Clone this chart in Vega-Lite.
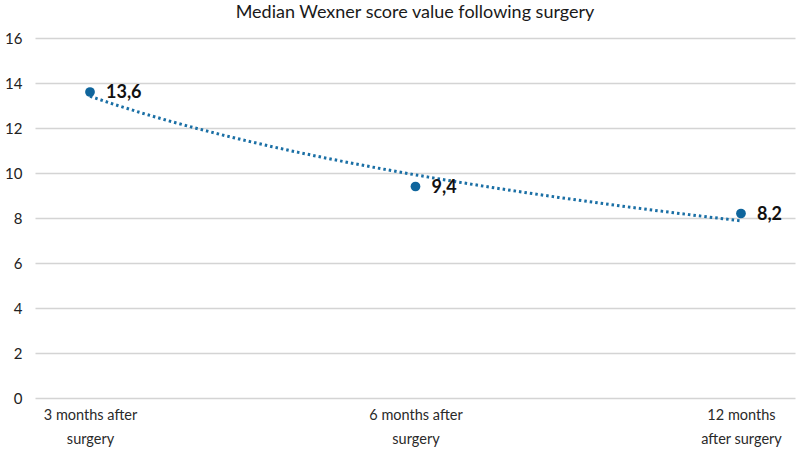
{
  "$schema": "https://vega.github.io/schema/vega-lite/v6.json",
  "autosize": "none",
  "width": 760,
  "height": 360,
  "padding": {"left": 35, "top": 38, "right": 5, "bottom": 62},
  "background": "white",
  "title": {"text": "Median Wexner score value following surgery", "font": "Lato", "fontSize": 18, "fontWeight": "normal", "color": "#1a1a1a", "offset": 9, "anchor": "middle"},
  "data": {"values": [
    {"period": "3 months after surgery", "idx": 1, "value": 13.6, "label": "13,6"},
    {"period": "6 months after surgery", "idx": 2, "value": 9.4, "label": "9,4"},
    {"period": "12 months after surgery", "idx": 3, "value": 8.2, "label": "8,2"}
  ]},
  "encoding": {
    "x": {"field": "idx", "type": "quantitative", "scale": {"domain": [0.831, 3.166], "nice": false, "zero": false},
      "axis": {"values": [1, 2, 3], "title": null, "grid": false, "domain": false, "ticks": false, "labelFont": "Lato", "labelFontSize": 14.5, "labelColor": "#2a2a2a", "labelPadding": 10, "labelFlush": false, "labelLineHeight": 24,
        "labelExpr": "datum.value == 1 ? ['3 months after', 'surgery'] : datum.value == 2 ? ['6 months after', 'surgery'] : ['12 months', 'after surgery']"}},
    "y": {"field": "value", "type": "quantitative", "scale": {"domain": [0, 16], "nice": false},
      "axis": {"values": [0, 2, 4, 6, 8, 10, 12, 14, 16], "title": null, "domain": false, "ticks": false, "labelFont": "Lato", "labelFontSize": 15, "labelColor": "#222222", "labelPadding": 13, "gridColor": "#d4d4d4", "gridWidth": 1.5}}
  },
  "layer": [
    {
      "transform": [{"regression": "value", "on": "idx", "method": "log", "extent": [1, 3]}],
      "mark": {"type": "line", "color": "#1a6fa5", "strokeWidth": 3, "strokeDash": [2.5, 3]}
    },
    {
      "mark": {"type": "point", "filled": true, "color": "#0f659c", "size": 95, "opacity": 1}
    },
    {
      "mark": {"type": "text", "align": "left", "baseline": "middle", "dx": 16, "dy": 1, "font": "Lato", "fontSize": 18, "fontWeight": "bold", "color": "#111111"},
      "encoding": {"text": {"field": "label"}}
    }
  ],
  "config": {"view": {"stroke": null}}
}
